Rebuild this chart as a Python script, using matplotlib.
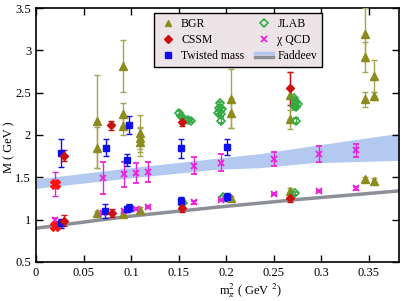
import numpy as np
from matplotlib import pyplot as plt
from matplotlib.lines import Line2D
from matplotlib.legend_handler import HandlerBase

# BGR
bgr_x = [0.064, 0.064, 0.064, 0.092, 0.092, 0.092, 0.092, 0.109, 0.109, 0.109, 0.109,
         0.205, 0.205, 0.205, 0.267, 0.267, 0.267, 0.346, 0.346, 0.346, 0.346, 0.356, 0.356, 0.356]
bgr_y = [2.16, 1.85, 1.075, 2.815, 2.245, 2.106, 1.067, 2.02, 1.96, 1.92, 1.114,
         2.43, 2.26, 1.252, 2.47, 2.185, 1.343, 3.19, 2.925, 2.42, 1.477, 2.697, 2.46, 1.457]
bgr_err = [0.55, 0.24, 0.03, 0.31, 0.135, 0.106, 0.02, 0.22, 0.12, 0.17, 0.03,
           0.35, 0.18, 0.03, 0.28, 0.11, 0.03, 0.31, 0.18, 0.085, 0.03, 0.19, 0.05, 0.03]

# CSSM
cssm_x = [0.029, 0.029, 0.079, 0.080, 0.154, 0.154, 0.267, 0.267]
cssm_y = [1.756, 0.984, 2.115, 1.075, 2.15, 1.134, 2.55, 1.252]
cssm_err = [0.065, 0.065, 0.05, 0.045, 0.04, 0.04, 0.2, 0.05]

# Twisted mass
tm_x = [0.026, 0.026, 0.074, 0.073, 0.0956, 0.0956, 0.0984, 0.0984, 0.153, 0.153, 0.201, 0.201]
tm_y = [1.79, 0.955, 1.85, 1.10, 1.705, 1.122, 2.12, 1.14, 1.843, 1.22, 1.855, 1.264]
tm_err = [0.165, 0.05, 0.1, 0.08, 0.075, 0.03, 0.11, 0.04, 0.11, 0.05, 0.095, 0.05]

# JLAB
jlab_x = [0.151, 0.153, 0.156, 0.160, 0.163, 0.155,
          0.194, 0.193, 0.196, 0.192, 0.195, 0.195, 0.197,
          0.272, 0.274, 0.276, 0.272, 0.274, 0.274, 0.273]
jlab_y = [2.26, 2.22, 2.19, 2.18, 2.17, 1.20,
          2.374, 2.315, 2.303, 2.263, 2.248, 2.169, 1.264,
          2.433, 2.393, 2.366, 2.342, 2.327, 2.169, 1.31]
jlab_err = [0.02, 0.02, 0.02, 0.02, 0.02, 0.02,
            0.02, 0.02, 0.02, 0.02, 0.02, 0.03, 0.02,
            0.02, 0.02, 0.02, 0.02, 0.02, 0.03, 0.02]

# chi QCD
chi_x = [0.070, 0.093, 0.105, 0.118, 0.166, 0.195, 0.250, 0.298, 0.337,
         0.020, 0.070, 0.093, 0.105, 0.118, 0.166, 0.195, 0.250, 0.298, 0.337]
chi_y = [1.49, 1.535, 1.548, 1.563, 1.634, 1.673, 1.713, 1.776, 1.82,
         0.99, 1.08, 1.10, 1.124, 1.146, 1.205, 1.232, 1.30, 1.339, 1.37]
chi_err = [0.19, 0.15, 0.12, 0.115, 0.1, 0.1, 0.085, 0.09, 0.075,
           0.03, 0.015, 0.015, 0.015, 0.015, 0.015, 0.015, 0.015, 0.015, 0.015]

# red points at the lightest mass
phys_x = [0.020, 0.020]
phys_y = [1.42, 0.93]
phys_err = [0.145, 0.03]

# Faddeev
band_x = [0.0, 0.097, 0.19, 0.236, 0.289, 0.382]
band_hi = [1.48, 1.61, 1.725, 1.78, 1.87, 2.02]
band_lo = [1.37, 1.49, 1.595, 1.614, 1.67, 1.70]
line_x = [0.0, 0.095, 0.19, 0.278, 0.382]
line_y = [0.898, 1.035, 1.146, 1.24, 1.339]

olive = '#8c8c1e'
olive_e = '#a6a650'
red = '#cc1010'
blue = '#1010ee'
green = '#33aa44'
magenta = '#ee22dd'
bandc = '#b3c9f0'
grayc = '#8c8f96'

plt.rcParams['font.family'] = ['Liberation Serif', 'DejaVu Serif']
plt.rcParams['mathtext.fontset'] = 'stix'

fig = plt.figure(figsize=(4.11, 3.01), dpi=100)
ax = fig.add_axes([0.0876, 0.130, 0.883, 0.843])

ax.fill_between(band_x, band_lo, band_hi, color=bandc, lw=0, zorder=1)
ax.plot(line_x, line_y, color=grayc, lw=2.5, zorder=1.5)

kw = dict(ls='none', capsize=2.2, elinewidth=1, capthick=1, zorder=3)
ax.errorbar(bgr_x, bgr_y, yerr=bgr_err, fmt='^', color=olive, ecolor=olive_e, ms=5.5, **kw)
ax.errorbar(jlab_x, jlab_y, yerr=jlab_err, fmt='D', color=green, mfc='none', mew=1.2, ms=4.5, **kw)
ax.errorbar(chi_x, chi_y, yerr=chi_err, fmt='x', color=magenta, ms=4, mew=1.3, **kw)
ax.errorbar(phys_x, phys_y, yerr=phys_err, fmt='X', color='#ff1010', ecolor=magenta, ms=6.5, **kw)
ax.errorbar(tm_x, tm_y, yerr=tm_err, fmt='s', color=blue, ms=5, **kw)
ax.errorbar(cssm_x, cssm_y, yerr=cssm_err, fmt='D', color=red, ms=4.5, **kw)

ax.set_xlim(0, 0.382)
ax.set_ylim(0.5, 3.5)
ax.set_xticks(np.arange(0, 0.36, 0.05))
ax.set_xticklabels(['0', '0.05', '0.1', '0.15', '0.2', '0.25', '0.3', '0.35'])
ax.set_yticks([0.5, 1, 1.5, 2, 2.5, 3, 3.5])
ax.set_yticklabels(['0.5', '1', '1.5', '2', '2.5', '3', '3.5'])
ax.tick_params(direction='in', top=True, right=True, length=5, width=1, labelsize=9)
for s in ax.spines.values():
    s.set_linewidth(1.2)

ax.set_xlabel(r'm$_\pi^2$ ( GeV $^2$)', fontsize=9)
ax.xaxis.set_label_coords(0.59, -0.075)
ax.set_ylabel('M ( GeV )', fontsize=9)
ax.yaxis.set_label_coords(-0.058, 0.45)


class TwoLines(HandlerBase):
    def create_artists(self, legend, orig_handle, xdescent, ydescent, width, height, fontsize, trans):
        x0 = -xdescent
        l1 = Line2D([x0, x0 + width], [height * 0.72 - ydescent] * 2, color=bandc, lw=2.5)
        l2 = Line2D([x0, x0 + width], [height * 0.28 - ydescent] * 2, color=grayc, lw=2.5)
        l1.set_transform(trans)
        l2.set_transform(trans)
        return [l1, l2]


h_bgr = Line2D([], [], ls='none', marker='^', color=olive, ms=5)
h_cssm = Line2D([], [], ls='none', marker='D', color=red, ms=4.5)
h_tm = Line2D([], [], ls='none', marker='s', color=blue, ms=4.5)
h_jlab = Line2D([], [], ls='none', marker='D', color=green, mfc='none', mew=1.2, ms=4.5)
h_chi = Line2D([], [], ls='none', marker='x', color=magenta, ms=4, mew=1.3)
h_fad = Line2D([], [], color=grayc)

leg = ax.legend([h_bgr, h_cssm, h_tm, h_jlab, h_chi, h_fad],
                ['BGR', 'CSSM', 'Twisted mass', 'JLAB', 'χ QCD', 'Faddeev'],
                handler_map={h_fad: TwoLines()}, ncol=2, loc='upper left',
                bbox_to_anchor=(0.325, 0.98),
                fontsize=8.5, fancybox=False, framealpha=1, edgecolor='black',
                facecolor='#ede4e8', handlelength=1.5, handletextpad=0.4,
                borderaxespad=0, labelspacing=0.35, columnspacing=0.9,
                borderpad=0.4)
leg.get_frame().set_linewidth(1.0)
leg.set_zorder(5)

fig.savefig('out.png', dpi=100)
